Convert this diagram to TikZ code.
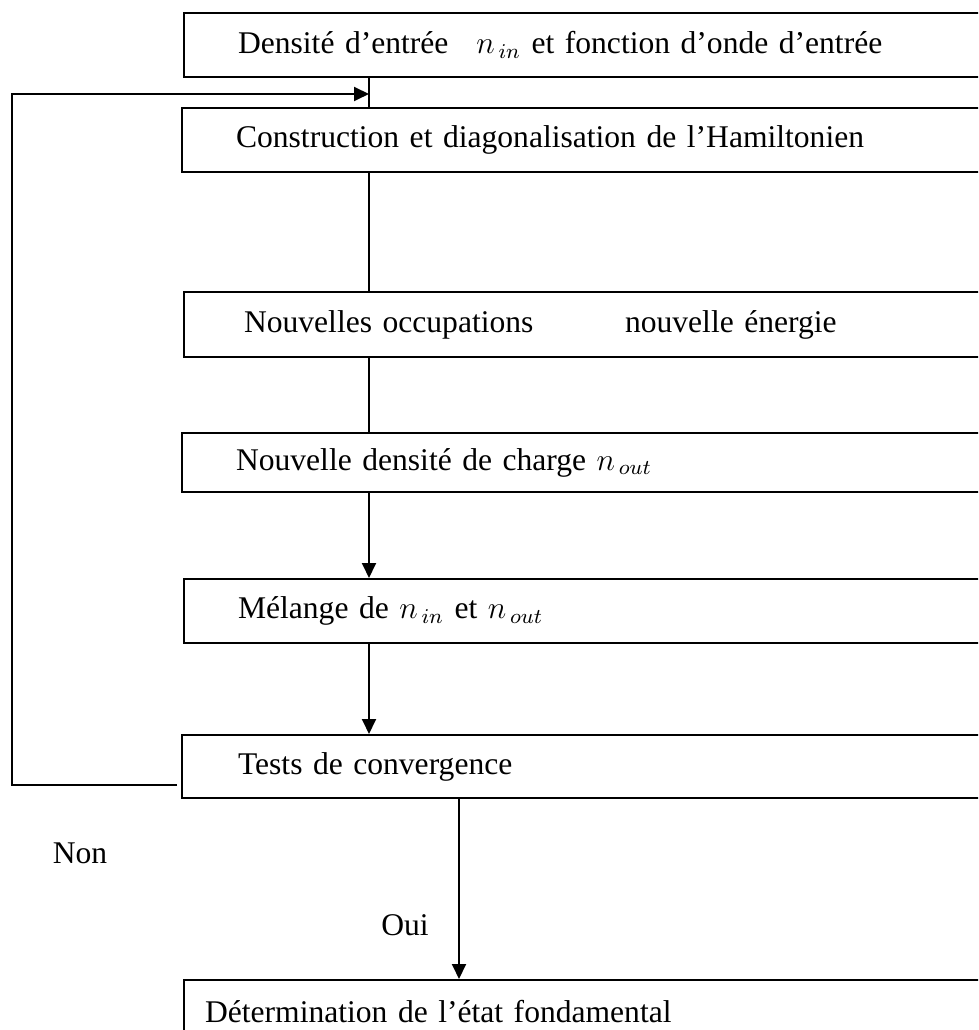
\documentclass[tikz,border=0pt]{standalone}
\usepackage{fontspec}
\setmainfont{Liberation Serif}
\usetikzlibrary{arrows.meta}
\newcommand\px{0.38pt}

\begin{document}
\begin{tikzpicture}[
    x=0.38pt, y=-0.38pt,
    every node/.style={font=\fontsize{12}{14}\selectfont},
    stage/.style={draw, line width=0.8pt, rectangle, anchor=north west,
                  minimum height=64*\px, text width=800*\px,
                  inner xsep=#1*\px, inner ysep=0pt, align=left},
    stage/.default=54,
    link/.style={line width=0.8pt},
    flow/.style={link, -{Triangle[length=5.7pt, width=5.3pt]}}
]
\useasboundingbox (0,0) rectangle (978,1030);
\clip (0,0) rectangle (978,1030);

% One unit is one pixel of the page; y grows downwards.
\node[stage] (input) at (183,12)
      {Densité d’entrée\hspace{0.55em} $n_{\,in}$ et fonction d’onde d’entrée};
\node[stage] (hamil) at (181,107) {Construction et diagonalisation de l’Hamiltonien};
\node[stage=60, minimum height=65*\px] (occup) at (183,291)
      {Nouvelles occupations\hspace{2.9em}nouvelle énergie};
\node[stage, minimum height=59*\px] (dens) at (181,432)
      {Nouvelle densité de charge $n_{\,out}$};
\node[stage] (mix) at (183,578) {Mélange de $n_{\,in}$ et $n_{\,out}$};
\node[stage=56, minimum height=63*\px] (conv) at (181,734) {Tests de convergence};
\node[stage=21, minimum height=63*\px] (ground) at (183,979)
      {Détermination de l’état fondamental};

\node (non) at (80,853) {Non};
\node (oui) at (405,925) {Oui};

% ---------- columns of the connectors ----------
\coordinate (trunk) at (369,0);
\coordinate (exit)  at (459,0);
\coordinate (back)  at (12,94);
\coordinate (join)  at (369,94);

\draw[link] (trunk |- input.south) -- (trunk |- hamil.north);
\draw[link] (trunk |- hamil.south) -- (trunk |- occup.north);
\draw[link] (trunk |- occup.south) -- (trunk |- dens.north);
\draw[flow] (trunk |- dens.south) -- (trunk |- mix.north);
\draw[flow] (trunk |- mix.south) -- (trunk |- conv.north);
\draw[flow] (exit |- conv.south) -- (exit |- ground.north);

% ---------- loop back ----------
\draw[flow] ([xshift=-4*\px, yshift=14*\px]conv.south west) -| (back) -- (join);

\end{tikzpicture}
\end{document}
